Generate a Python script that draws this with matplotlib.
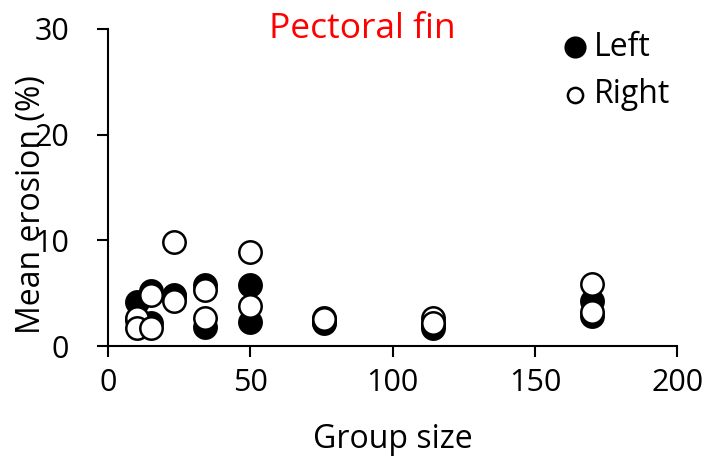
from matplotlib import pyplot as plt

# group sizes and mean erosion (%)
group_size = [10, 10, 15, 15, 23, 23, 34, 34, 50, 50, 76, 76, 114, 114, 170, 170]
left_erosion = [4.2, 2.5, 5.2, 2.2, 4.8, 4.7, 5.8, 1.8, 5.8, 2.3, 2.3, 2.2, 1.7, 2.0, 4.3, 2.8]
right_erosion = [2.7, 1.7, 4.8, 1.7, 9.8, 4.3, 5.3, 2.7, 8.9, 3.8, 2.7, 2.6, 2.7, 2.2, 5.9, 3.2]

x_ticks = [0, 50, 100, 150, 200]
y_ticks = [0, 10, 20, 30]

plt.rcParams['font.family'] = ['Open Sans', 'DejaVu Sans']

fig = plt.figure(figsize=(7.07, 4.67), dpi=100)
ax = fig.add_axes([0.153, 0.259, 0.805, 0.679])

ax.scatter(group_size, left_erosion, s=260, facecolor='black', edgecolor='black',
           linewidth=1.8, label='Left', zorder=3)
ax.scatter(group_size, right_erosion, s=260, facecolor='white', edgecolor='black',
           linewidth=1.8, label='Right', zorder=4)

ax.set_xlim(0, 200)
ax.set_ylim(0, 30)
ax.set_xticks(x_ticks)
ax.set_yticks(y_ticks)
ax.tick_params(axis='both', labelsize=22, width=1.5, length=8, direction='out')
ax.tick_params(axis='y', pad=20)
ax.tick_params(axis='x', pad=8)

for side in ['top', 'right']:
  ax.spines[side].set_visible(False)
for side in ['left', 'bottom']:
  ax.spines[side].set_linewidth(1.5)

ax.set_xlabel('Group size', fontsize=23, labelpad=18)
ax.set_ylabel('Mean erosion (%)', fontsize=23)
ax.yaxis.set_label_coords(-0.105, 0.445)

ax.text(0.446, 1.0, 'Pectoral fin', color='red', fontsize=25.5,
        ha='center', va='center', transform=ax.transAxes)

leg = ax.legend(loc='upper right', bbox_to_anchor=(1.01, 1.035), frameon=False, fontsize=23,
                handletextpad=-0.4, labelspacing=0.45, borderaxespad=0)
leg.legend_handles[0].set_sizes([200])
leg.legend_handles[1].set_sizes([120])

fig.savefig('out.png', dpi=100)
